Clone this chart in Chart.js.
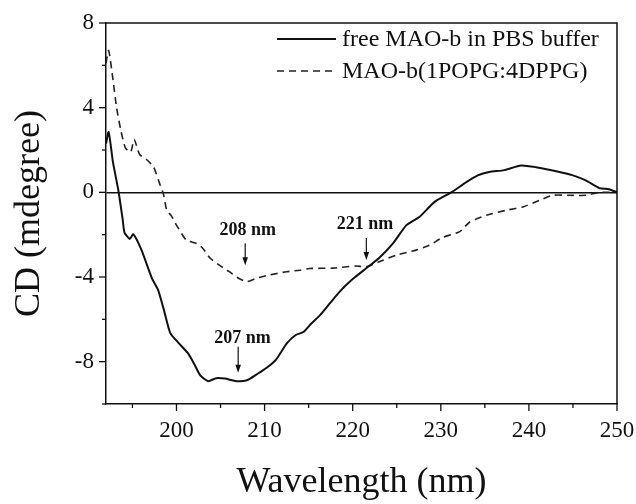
<!DOCTYPE html>
<html><head><meta charset="utf-8">
<script src="https://cdn.jsdelivr.net/npm/chart.js@4.4.1/dist/chart.umd.min.js"></script>
<style>html,body{margin:0;padding:0;background:#fff}#wrap{width:636px;height:504px}</style>
</head><body><div id="wrap"><canvas id="c" width="636" height="504"></canvas></div>
<script>
// ---- data ----
const seriesLabels = ['free MAO-b in PBS buffer', 'MAO-b(1POPG:4DPPG)'];
const freeWl = [192.0,192.3,192.8,193.4,193.9,194.1,194.7,195.1,196.0,197.2,197.9,198.6,199.3,200.2,201.3,202.0,202.7,203.6,204.5,205.5,206.8,208.0,209.1,210.2,211.3,212.5,213.5,214.4,215.3,216.3,217.4,218.5,220.0,221.5,223.0,224.6,226.1,227.6,229.3,231.2,232.9,234.2,235.5,237.2,239.1,240.8,243.1,245.0,246.5,248.0,249.1,250.0];
const freeCd = [2.3,2.85,1.4,0.1,-1.3,-1.9,-2.2,-1.98,-2.7,-4.05,-4.6,-5.6,-6.65,-7.1,-7.6,-8.1,-8.65,-8.92,-8.78,-8.8,-8.92,-8.88,-8.6,-8.3,-7.9,-7.15,-6.75,-6.6,-6.2,-5.8,-5.25,-4.7,-4.1,-3.6,-3.1,-2.4,-1.55,-1.15,-0.45,0.0,0.48,0.8,0.96,1.05,1.27,1.19,1.0,0.8,0.55,0.2,0.15,0.0];
const lipWl = [192.0,192.3,192.8,193.2,193.7,194.2,194.8,195.2,195.8,196.6,197.4,198.1,198.5,198.9,199.4,200.0,201.1,202.3,203.0,203.8,204.9,206.0,207.0,208.0,209.1,210.6,212.5,214.0,215.1,217.8,220.4,221.5,223.0,225.0,227.2,228.7,230.2,232.1,233.3,235.2,237.4,239.3,241.2,242.7,244.6,246.5,248.0,250.0];
const lipCd = [6.1,6.7,5.3,4.0,2.9,2.1,1.9,2.5,1.8,1.55,1.2,0.4,-0.05,-0.85,-1.1,-1.55,-2.25,-2.42,-2.65,-3.1,-3.45,-3.75,-4.05,-4.22,-4.05,-3.9,-3.75,-3.68,-3.6,-3.58,-3.48,-3.52,-3.28,-2.96,-2.73,-2.5,-2.13,-1.87,-1.4,-1.08,-0.85,-0.69,-0.38,-0.14,-0.14,-0.14,0.0,0.0];
const xTickValues = [195,200,205,210,215,220,225,230,235,240,245,250];
const yTickValues = [-10,-8,-6,-4,-2,0,2,4,6,8];
const annotText = ['208 nm', '221 nm', '207 nm'];
const annotTextX = [208.1, 221.4, 207.5];
const annotTextY = [-1.79, -1.5, -6.92];
const arrowX = [207.8, 221.55, 207.0];
const arrowTop = [-2.4, -2.16, -7.29];
const arrowTip = [-3.44, -3.2, -8.52];

const SERIF = "'Liberation Serif', 'Times New Roman', serif";
const INK = '#111';

function pts(xs, ys) { return xs.map((x, i) => ({x: x, y: ys[i]})); }

const framePlugin = {
  id: 'frame',
  afterDraw(chart) {
    const {ctx, chartArea: a, scales} = chart;
    ctx.save();
    ctx.strokeStyle = INK;
    ctx.lineWidth = 1.5;
    ctx.beginPath();
    ctx.moveTo(a.left, a.top); ctx.lineTo(a.right, a.top); ctx.lineTo(a.right, a.bottom);
    ctx.stroke();
    // ticks
    ctx.lineWidth = 1.3;
    scales.x.ticks.forEach(t => {
      const px = scales.x.getPixelForValue(t.value);
      const len = t.value % 10 === 0 ? 7 : 4;
      ctx.beginPath(); ctx.moveTo(px, a.bottom); ctx.lineTo(px, a.bottom + len); ctx.stroke();
    });
    scales.y.ticks.forEach(t => {
      const py = scales.y.getPixelForValue(t.value);
      const len = t.value % 4 === 0 ? 7 : 4;
      ctx.beginPath(); ctx.moveTo(a.left, py); ctx.lineTo(a.left - len, py); ctx.stroke();
    });
    // legend
    const ds = chart.data.datasets;
    const lx1 = 277, lx2 = 336, tx = 342;
    const ly = [39, 71];
    ctx.font = '24px ' + SERIF;
    ctx.textBaseline = 'middle';
    ctx.textAlign = 'left';
    ctx.fillStyle = INK;
    ds.forEach((d, i) => {
      ctx.save();
      ctx.strokeStyle = d.borderColor;
      ctx.lineWidth = d.borderWidth;
      ctx.setLineDash(d.borderDash || []);
      ctx.beginPath(); ctx.moveTo(lx1, ly[i]); ctx.lineTo(lx2, ly[i]); ctx.stroke();
      ctx.restore();
      ctx.fillText(d.label, tx, ly[i] + 1);
    });
    // annotations
    ctx.font = 'bold 18px ' + SERIF;
    ctx.textAlign = 'center';
    annotText.forEach((txt, i) => {
      const x = scales.x.getPixelForValue(annotTextX[i]);
      const y = scales.y.getPixelForValue(annotTextY[i]);
      ctx.fillText(txt, x, y);
      const ax = scales.x.getPixelForValue(arrowX[i]);
      const y1 = scales.y.getPixelForValue(arrowTop[i]);
      const y2 = scales.y.getPixelForValue(arrowTip[i]);
      ctx.lineWidth = 1.2;
      ctx.beginPath(); ctx.moveTo(ax, y1); ctx.lineTo(ax, y2 - 6); ctx.stroke();
      ctx.beginPath(); ctx.moveTo(ax - 2.8, y2 - 8); ctx.lineTo(ax + 2.8, y2 - 8); ctx.lineTo(ax, y2); ctx.closePath(); ctx.fill();
    });
    ctx.restore();
  }
};

new Chart(document.getElementById('c'), {
  type: 'line',
  data: {
    datasets: [
      {label: seriesLabels[0], data: pts(freeWl, freeCd), borderColor: INK, borderWidth: 2, pointRadius: 0, tension: 0.2, fill: false},
      {label: seriesLabels[1], data: pts(lipWl, lipCd), borderColor: '#222', borderWidth: 1.6, borderDash: [7, 5], pointRadius: 0, tension: 0.2, fill: false}
    ]
  },
  options: {
    responsive: false,
    animation: false,
    devicePixelRatio: 1,
    layout: {padding: {top: 23, right: 0, left: 0, bottom: 0}},
    plugins: {legend: {display: false}, tooltip: {enabled: false}},
    scales: {
      x: {
        type: 'linear', min: 192, max: 250,
        afterBuildTicks: s => { s.ticks = xTickValues.map(v => ({value: v})); },
        afterFit: s => { s.height = 100; s.paddingRight = 19; s.paddingLeft = 0; },
        grid: {display: false, drawTicks: false},
        border: {display: true, color: INK, width: 1.5},
        ticks: {
          autoSkip: false, maxRotation: 0, padding: 13, color: INK,
          font: {family: SERIF, size: 23},
          callback: v => (v % 10 === 0 ? String(v) : '')
        },
        title: {display: true, text: 'Wavelength (nm)', color: INK, font: {family: SERIF, size: 36}, padding: {top: 0, bottom: 0}}
      },
      y: {
        type: 'linear', min: -10, max: 8,
        afterBuildTicks: s => { s.ticks = yTickValues.map(v => ({value: v})); },
        afterFit: s => { s.width = 106; s.paddingTop = 0; s.paddingBottom = 0; },
        grid: {
          drawTicks: false,
          color: c => (c.tick && c.tick.value === 0 ? INK : 'rgba(0,0,0,0)'),
          lineWidth: 1.5
        },
        border: {display: true, color: INK, width: 1.5},
        ticks: {
          autoSkip: false, padding: 12, color: INK,
          font: {family: SERIF, size: 23},
          callback: v => (v % 4 === 0 ? String(v) : '')
        },
        title: {display: true, text: 'CD (mdegree)', color: INK, font: {family: SERIF, size: 36}, padding: {top: 8, bottom: 0}}
      }
    }
  },
  plugins: [framePlugin]
});
</script>
</body></html>
